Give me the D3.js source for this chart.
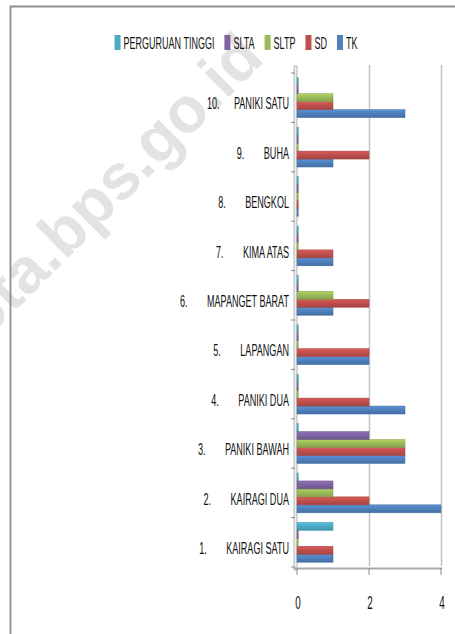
<!DOCTYPE html>
<html>
<head>
<meta charset="utf-8">
<script src="https://cdn.jsdelivr.net/npm/d3@7"></script>
<style>
  html, body { margin: 0; padding: 0; background: #fff; }
  svg { display: block; }
  text { font-family: "Liberation Sans", Arial, sans-serif; fill: #111; }
</style>
</head>
<body>
<svg width="455" height="634"></svg>
<script>
// data, bottom category first
let categories = ["1. KAIRAGI SATU", "2. KAIRAGI DUA", "3. PANIKI BAWAH", "4. PANIKI DUA", "5. LAPANGAN",
    "6. MAPANGET BARAT", "7. KIMA ATAS", "8. BENGKOL", "9. BUHA", "10. PANIKI SATU"];
let tk   = [1, 4, 3, 3, 2, 1, 1, 0, 1, 3];
let sd   = [1, 2, 3, 2, 2, 2, 1, 0, 2, 1];
let sltp = [0, 1, 3, 0, 0, 1, 0, 0, 0, 1];
let slta = [0, 1, 2, 0, 0, 0, 0, 0, 0, 0];
let pt   = [1, 0, 0, 0, 0, 0, 0, 0, 0, 0];
let seriesNames = ["TK", "SD", "SLTP", "SLTA", "PERGURUAN TINGGI"];
let seriesValues = [tk, sd, sltp, slta, pt];
let xTicks = [0, 2, 4];

let colors = ["#4F81BD", "#C0504D", "#9BBB59", "#8064A2", "#4BACC6"];
let sx = 0.55; // horizontal squeeze of the text, the source picture is narrow

let svg = d3.select("svg");

// watermark
svg.append("text")
    .attr("transform", "translate(266,60) rotate(-45)")
    .attr("text-anchor", "end")
    .style("font-size", "64px")
    .style("font-weight", "bold")
    .style("fill", "#e3e3e3")
    .text("manadokota.bps.go.id");

// chart border (only top and left are inside the picture)
svg.append("path")
    .attr("d", "M10.5,640 V6.5 H460")
    .attr("fill", "none")
    .attr("stroke", "#8e8e8e")
    .attr("stroke-width", 1.8);

// scales
let x = d3.scaleLinear().domain([0, 4]).range([297, 441]);
let y0 = d3.scaleBand().domain(categories.slice().reverse()).range([73, 567]);
let y1 = d3.scaleBand().domain(seriesNames.slice().reverse())
    .range([0, y0.bandwidth()]).paddingOuter(0.6);

// gradients for the bars
let defs = svg.append("defs");
seriesNames.forEach(function (s, i) {
    let c = d3.color(colors[i]);
    let g = defs.append("linearGradient")
        .attr("id", "grad" + i)
        .attr("x1", 0).attr("y1", 0).attr("x2", 0).attr("y2", 1);
    g.append("stop").attr("offset", "0%").attr("stop-color", c.brighter(0.35));
    g.append("stop").attr("offset", "45%").attr("stop-color", c);
    g.append("stop").attr("offset", "100%").attr("stop-color", c.darker(0.4));
});

// gridlines / back wall
svg.append("g").selectAll("line")
    .data(xTicks.slice(1))
    .enter().append("line")
    .attr("x1", function (d) { return x(d) + 0.5; })
    .attr("x2", function (d) { return x(d) + 0.5; })
    .attr("y1", 65)
    .attr("y2", 566)
    .attr("stroke", "#c4c4c4")
    .attr("stroke-width", 1.5);

// left wall
svg.append("rect")
    .attr("x", x(0) - 3)
    .attr("y", 66)
    .attr("width", 3)
    .attr("height", 504)
    .attr("fill", "#ececec")
    .attr("stroke", "#a8a8a8")
    .attr("stroke-width", 0.8);

// floor
svg.append("line")
    .attr("x1", x(0) - 3).attr("x2", x(4) + 1)
    .attr("y1", 568.5).attr("y2", 568.5)
    .attr("stroke", "#a8a8a8")
    .attr("stroke-width", 2);

// category ticks
svg.append("g").selectAll("line")
    .data(d3.range(categories.length + 1))
    .enter().append("line")
    .attr("x1", x(0) - 6).attr("x2", x(0) - 2)
    .attr("y1", function (d) { return 73 + d * y0.step(); })
    .attr("y2", function (d) { return 73 + d * y0.step(); })
    .attr("stroke", "#8c8c8c");

// value ticks
svg.append("g").selectAll("line")
    .data(xTicks)
    .enter().append("line")
    .attr("x1", function (d) { return x(d); })
    .attr("x2", function (d) { return x(d); })
    .attr("y1", 568).attr("y2", 575)
    .attr("stroke", "#8c8c8c");

// bars
let groups = svg.append("g")
    .selectAll("g")
    .data(categories)
    .enter().append("g")
    .attr("transform", function (d) { return "translate(0," + y0(d) + ")"; });

groups.selectAll("rect")
    .data(function (d, ci) {
        return seriesNames.map(function (s, si) {
            return { series: s, idx: si, value: seriesValues[si][ci] };
        });
    })
    .enter().append("rect")
    .attr("x", x(0))
    .attr("y", function (d) { return y1(d.series); })
    .attr("height", y1.bandwidth())
    .attr("width", function (d) { return Math.max(x(d.value) - x(0), 1.2); })
    .attr("fill", function (d) { return "url(#grad" + d.idx + ")"; })
    .attr("stroke", function (d) { return d3.color(colors[d.idx]).darker(0.5); })
    .attr("stroke-width", 0.5);

// category labels: number in its own tab column, name right aligned
let labelRight = 289;
let labels = svg.append("g").selectAll("g")
    .data(categories)
    .enter().append("g");

labels.each(function (d) {
    let num = d.slice(0, d.indexOf(" "));
    let name = d.slice(d.indexOf(" ") + 1);
    let cy = y0(d) + y0.bandwidth() / 2 + 6;
    let g = d3.select(this);
    let t = g.append("text")
        .attr("text-anchor", "end")
        .attr("dy", "0.35em")
        .style("font-size", "16.5px")
        .attr("transform", "translate(" + labelRight + "," + cy + ") scale(" + sx + ",1)")
        .text(name);
    let w = t.node().getComputedTextLength() * sx;
    g.append("text")
        .attr("dy", "0.35em")
        .style("font-size", "16.5px")
        .attr("transform", "translate(" + (labelRight - w - 27) + "," + cy + ") scale(" + sx + ",1)")
        .text(num);
});

// value axis labels
svg.append("g").selectAll("text")
    .data(xTicks)
    .enter().append("text")
    .attr("text-anchor", "middle")
    .attr("dy", "0.35em")
    .style("font-size", "18px")
    .attr("transform", function (d) { return "translate(" + (x(d) + 1) + ",603) scale(" + sx + ",1)"; })
    .text(function (d) { return d; });

// legend, reversed order like the source
let legendItems = seriesNames.map(function (s, i) { return { name: s, idx: i }; }).reverse();
let legend = svg.append("g");
let cursor = 0;
legendItems.forEach(function (it) {
    let g = legend.append("g");
    g.append("rect")
        .attr("x", cursor).attr("y", 35)
        .attr("width", 6).attr("height", 15)
        .attr("fill", colors[it.idx]);
    let t = g.append("text")
        .attr("dy", "0.35em")
        .style("font-size", "17px")
        .attr("transform", "translate(" + (cursor + 9) + ",43) scale(0.53,1)")
        .text(it.name);
    cursor += 9 + t.node().getComputedTextLength() * 0.53 + 10;
});
let legendWidth = cursor - 10;
legend.attr("transform", "translate(" + (236 - legendWidth / 2) + ",0)");
</script>
</body>
</html>
